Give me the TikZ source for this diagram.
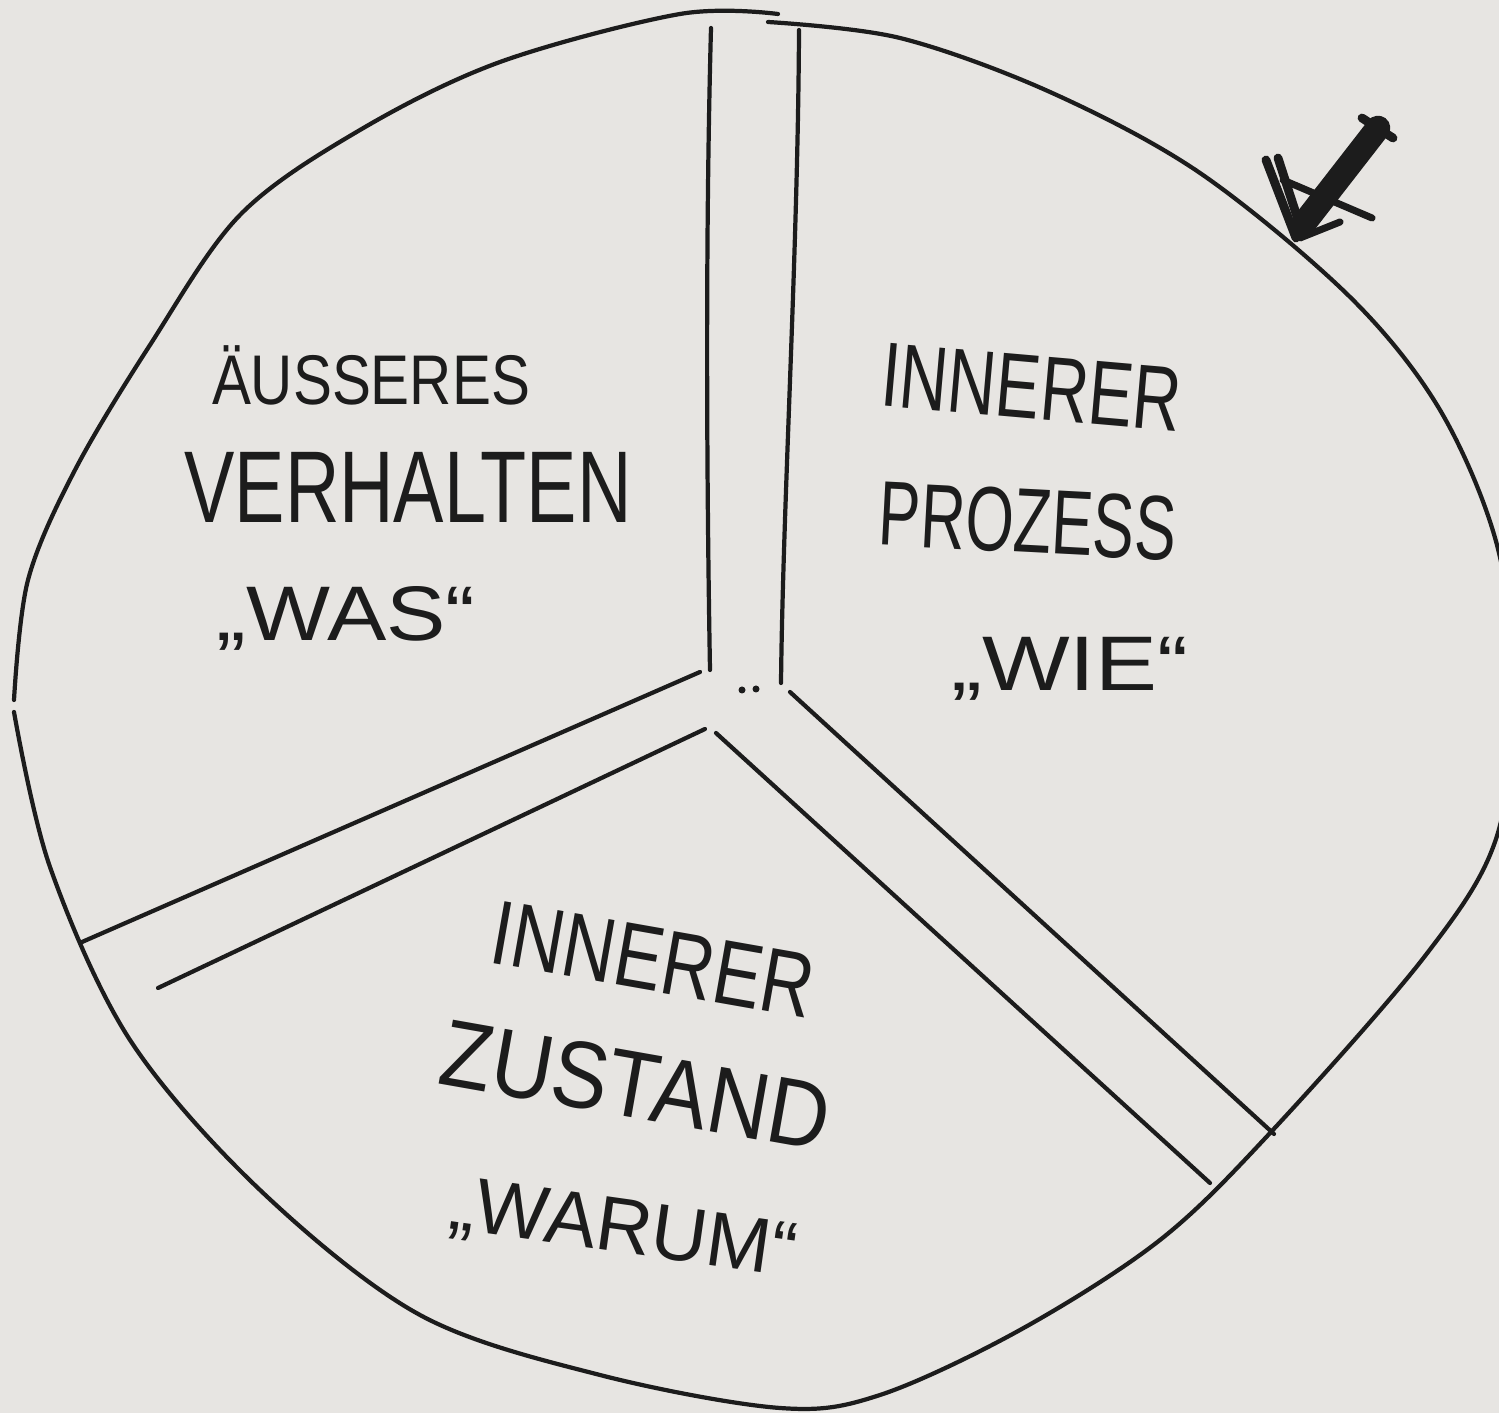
\documentclass[tikz,border=0pt]{standalone}
\usepackage{fontspec}
\setmainfont{Liberation Sans}
\definecolor{paper}{RGB}{231,229,226}
\definecolor{ink}{RGB}{28,28,28}
\tikzset{
  pen/.style={draw=ink, line width=1.2pt, line cap=round, line join=round},
  word/.style={text=ink, inner sep=0pt, text height=0.72em, text depth=0pt,
    font=\fontsize{26}{30}\selectfont},
  quote/.style={word, font=\fontsize{22}{26}\selectfont},
}
\begin{document}
\begin{tikzpicture}[x=0.01cm, y=-0.01cm]
\fill[paper] (0,0) rectangle (1499,1413);
\useasboundingbox (0,0) rectangle (1499,1413);
\begin{scope}
\clip (0,0) rectangle (1499,1413);
% the circle
\draw[pen] plot[smooth, tension=0.55] coordinates {
  (768,22) (900,38) (1050,92) (1200,173) (1350,297) (1440,410) (1497,545)
  (1514,690) (1496,839) (1425,956) (1271,1132) (1160,1240) (1020,1330)
  (880,1395) (780,1408) (600,1375) (420,1315) (260,1190) (130,1040)
  (50,867) (14,712)};
\draw[pen] plot[smooth, tension=0.55] coordinates {
  (14,700) (28,580) (75,470) (150,345) (240,215) (360,130) (500,62) (680,14) (778,14)};
\end{scope}
% double lines
\draw[pen] (711,28) .. controls (705,250) and (707,500) .. (710,670);
\draw[pen] (799,30) .. controls (798,250) and (783,500) .. (781,683);
\draw[pen] (700,672) -- (82,942);
\draw[pen] (705,729) -- (158,988);
\draw[pen] (716,733) -- (1210,1183);
\draw[pen] (790,692) -- (1274,1134);
\fill[ink] (742,690) circle (3.5) (756,689) circle (3.5);
% mark at the top right
\draw[pen, line width=7pt] (1305,222) -- (1378,128);
\draw[pen, line width=2.5pt] (1362,118) -- (1393,138);
\draw[pen, line width=2.5pt] (1266,160) -- (1296,238);
\draw[pen, line width=2.5pt] (1278,158) -- (1302,232);
\draw[pen, line width=2pt] (1283,180) -- (1372,218);
\draw[pen, line width=2pt] (1300,238) -- (1340,222);
% texts
\node[word, font=\fontsize{20}{24}\selectfont, xscale=0.83] (aussen) at (371,392) {ÄUSSERES};
\node[word, font=\fontsize{29}{34}\selectfont, xscale=0.74] (verhalten) at (408,510) {VERHALTEN};
\node[quote, xscale=1.15] (was) at (346,628) {„WAS“};
\node[word, rotate=-5, xscale=0.73] (innen1) at (1030,406) {INNERER};
\node[word, rotate=-3, xscale=0.68] (prozess) at (1027,540) {PROZESS};
\node[quote, xscale=1.2] (wie) at (1070,678) {„WIE“};
\node[word, rotate=-10, xscale=0.79] (innen2) at (650,978) {INNERER};
\node[word, font=\fontsize{27}{32}\selectfont, rotate=-10, xscale=0.89] (zustand) at (632,1105) {ZUSTAND};
\node[quote, rotate=-8] (warum) at (622,1240) {„WARUM“};
\end{tikzpicture}
\end{document}
